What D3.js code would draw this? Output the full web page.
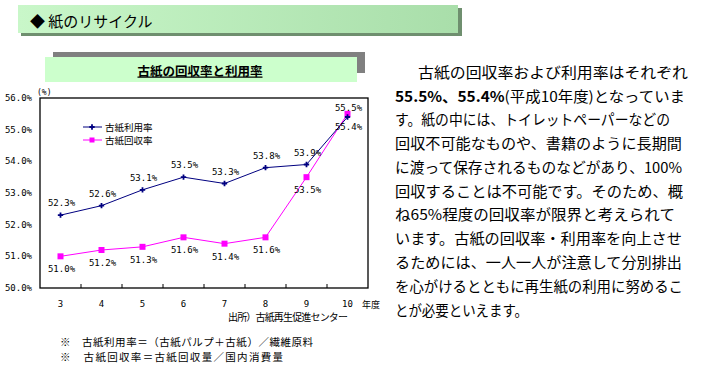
<!DOCTYPE html>
<html>
<head>
<meta charset="utf-8">
<script src="https://cdn.jsdelivr.net/npm/d3@7"></script>
<style>
  body { margin: 0; background: #fff; }
  svg { display: block; }
</style>
</head>
<body>
<script>
// data
const years = ["3", "4", "5", "6", "7", "8", "9", "10"];
const riyou = [52.3, 52.6, 53.1, 53.5, 53.3, 53.8, 53.9, 55.4];   // 古紙利用率
const kaishu = [51.0, 51.2, 51.3, 51.6, 51.4, 51.6, 53.5, 55.5];  // 古紙回収率
const yTicks = [50, 51, 52, 53, 54, 55, 56];
const bodyLines = [
  "古紙の回収率および利用率はそれぞれ",
  "55.5%、55.4%(平成10年度)となっていま",
  "す。紙の中には、トイレットペーパーなどの",
  "回収不可能なものや、書籍のように長期間",
  "に渡って保存されるものなどがあり、100%",
  "回収することは不可能です。そのため、概",
  "ね65%程度の回収率が限界と考えられて",
  "います。古紙の回収率・利用率を向上させ",
  "るためには、一人一人が注意して分別排出",
  "を心がけるとともに再生紙の利用に努めるこ",
  "とが必要といえます。"
];
const lineEnds = [688, 685, 670, 682, 682, 683, 675, 682, 682, 683, 528];

const jp = "'Noto Sans CJK JP', sans-serif";
const mono = "'DejaVu Sans Mono', monospace";

const svg = d3.select("body").append("svg")
  .attr("width", 701).attr("height", 376);

// header banner
const defs = svg.append("defs");
const grad = defs.append("linearGradient").attr("id", "bn");
grad.append("stop").attr("offset", "0%").attr("stop-color", "#c9f7c9");
grad.append("stop").attr("offset", "100%").attr("stop-color", "#a9deaa");
svg.append("rect").attr("x", 21).attr("y", 8).attr("width", 441).attr("height", 28).attr("fill", "#6f8f6f");
svg.append("rect").attr("x", 18).attr("y", 5).attr("width", 440).attr("height", 28).attr("fill", "url(#bn)");
svg.append("text").attr("x", 30).attr("y", 20).attr("dominant-baseline", "central")
  .style("font-family", jp).style("font-size", "15px").attr("fill", "#000")
  .text("◆ 紙のリサイクル");

// chart title box
svg.append("rect").attr("x", 53).attr("y", 52).attr("width", 312).attr("height", 21).attr("fill", "#808080");
svg.append("rect").attr("x", 45).attr("y", 57).attr("width", 312).attr("height", 25).attr("fill", "#ccffcc");
svg.append("text").attr("x", 200).attr("y", 70).attr("text-anchor", "middle").attr("dominant-baseline", "central")
  .style("font-family", jp).style("font-size", "12.5px").style("font-weight", "bold")
  .style("text-decoration", "underline").text("古紙の回収率と利用率");

// plot
const pL = 40, pR = 368, pT = 98, pB = 288;
const x = d3.scaleBand().domain(years).range([pL, pR]);
const y = d3.scaleLinear().domain([50, 56]).range([pB, pT]);
const cx = d => x(d) + x.bandwidth() / 2;

svg.append("rect").attr("x", pL).attr("y", pT).attr("width", pR - pL).attr("height", pB - pT)
  .attr("fill", "none").attr("stroke", "#000").attr("stroke-width", 1.3);

// bottom ticks at band boundaries, inside
svg.append("g").selectAll("line").data(years.slice(1)).join("line")
  .attr("x1", d => x(d)).attr("x2", d => x(d))
  .attr("y1", pB).attr("y2", pB - 4).attr("stroke", "#000");

svg.append("g").selectAll("text").data(yTicks).join("text")
  .attr("x", 32).attr("y", d => y(d)).attr("text-anchor", "end").attr("dominant-baseline", "central")
  .style("font-family", mono).style("font-size", "9px").text(d => d.toFixed(1) + "%");

svg.append("g").selectAll("text").data(years).join("text")
  .attr("x", cx).attr("y", 304).attr("text-anchor", "middle").attr("dominant-baseline", "central")
  .style("font-family", mono).style("font-size", "9px").text(d => d);

svg.append("text").attr("x", 37).attr("y", 92).attr("dominant-baseline", "central")
  .style("font-family", mono).style("font-size", "8px").text("(%)");
svg.append("text").attr("x", 362).attr("y", 304).attr("dominant-baseline", "central")
  .style("font-family", jp).style("font-size", "9px").text("年度");

const line = d3.line().x((d, i) => cx(years[i])).y(d => y(d));

// 回収率 (magenta)
svg.append("path").datum(kaishu).attr("d", line).attr("fill", "none").attr("stroke", "#ff00ff").attr("stroke-width", 1);
svg.append("g").selectAll("rect").data(kaishu).join("rect")
  .attr("x", (d, i) => cx(years[i]) - 3).attr("y", d => y(d) - 3)
  .attr("width", 6).attr("height", 6).attr("fill", "#ff00ff");

// 利用率 (navy)
svg.append("path").datum(riyou).attr("d", line).attr("fill", "none").attr("stroke", "#000080").attr("stroke-width", 1);
const star = d3.symbol().type(d3.symbolCross).size(16);
svg.append("g").selectAll("path").data(riyou).join("path")
  .attr("d", star).attr("transform", (d, i) => `translate(${cx(years[i])},${y(d)})`)
  .attr("fill", "#000080");

// value labels
svg.append("g").selectAll("text").data(riyou).join("text")
  .attr("x", (d, i) => cx(years[i]) + 1)
  .attr("y", (d, i) => i === riyou.length - 1 ? y(d) + 10 : y(d) - 12)
  .attr("text-anchor", "middle").attr("dominant-baseline", "central")
  .style("font-family", mono).style("font-size", "9px").text(d => d.toFixed(1) + "%");
svg.append("g").selectAll("text").data(kaishu).join("text")
  .attr("x", (d, i) => cx(years[i]) + 1)
  .attr("y", (d, i) => i === kaishu.length - 1 ? y(d) - 6 : y(d) + 13)
  .attr("text-anchor", "middle").attr("dominant-baseline", "central")
  .style("font-family", mono).style("font-size", "9px").text(d => d.toFixed(1) + "%");

// legend
const lg = svg.append("g");
[["古紙利用率", "#000080", 127], ["古紙回収率", "#ff00ff", 140]].forEach(([t, c, ly], i) => {
  lg.append("line").attr("x1", 83).attr("x2", 102).attr("y1", ly).attr("y2", ly).attr("stroke", c);
  if (i === 0) lg.append("path").attr("d", star).attr("transform", `translate(92,${ly})`).attr("fill", c);
  else lg.append("rect").attr("x", 89.5).attr("y", ly - 2.5).attr("width", 5).attr("height", 5).attr("fill", c);
  lg.append("text").attr("x", 105).attr("y", ly).attr("dominant-baseline", "central")
    .style("font-family", jp).style("font-size", "9.5px").text(t);
});

// source and notes
svg.append("text").attr("x", 228).attr("y", 316).attr("dominant-baseline", "central")
  .style("font-family", jp).style("font-size", "10px").attr("textLength", 120).text("出所）古紙再生促進センター");
svg.append("text").attr("x", 60).attr("y", 341).attr("dominant-baseline", "central")
  .style("font-family", jp).style("font-size", "10.5px").attr("textLength", 253)
  .text("※　古紙利用率＝（古紙パルプ＋古紙）／繊維原料");
svg.append("text").attr("x", 60).attr("y", 356).attr("dominant-baseline", "central")
  .style("font-family", jp).style("font-size", "10.5px").attr("textLength", 223)
  .text("※　古紙回収率＝古紙回収量／国内消費量");

// body text
const body = svg.append("g");
bodyLines.forEach((t, i) => {
  const sx = i === 0 ? 418 : 395;
  const txt = body.append("text").attr("x", sx).attr("y", 71 + i * 23.8)
    .attr("dominant-baseline", "central")
    .style("font-family", jp).style("font-size", "14.5px");
  if (i === 1) {
    txt.append("tspan").style("font-weight", "bold").text("55.5%、55.4%");
    txt.append("tspan").text("(平成10年度)となっていま");
  } else {
    txt.text(t);
  }
  txt.attr("textLength", lineEnds[i] - sx).attr("lengthAdjust", "spacingAndGlyphs");
});
</script>
</body>
</html>
